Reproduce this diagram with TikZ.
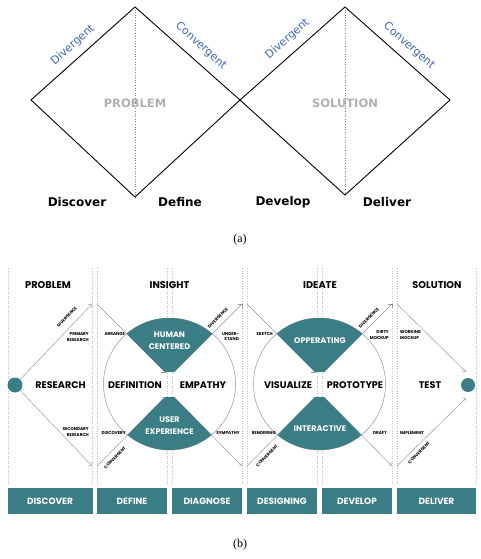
\documentclass[tikz,border=0pt]{standalone}
\usepackage{fontspec}
\setmainfont{Liberation Serif}
\newfontfamily\verd{DejaVu Sans}
\newfontfamily\pop{Poppins}
\usetikzlibrary{arrows.meta}
\definecolor{tealA}{RGB}{58,125,133}
\definecolor{divblue}{RGB}{62,102,182}
\definecolor{dotgray}{RGB}{190,190,190}
\definecolor{armgray}{RGB}{150,150,150}
\definecolor{probgray}{RGB}{175,175,175}
\tikzset{
  diam/.style={draw=black,line width=0.9pt},
  midline/.style={draw=gray,dotted,line width=0.6pt},
  phase/.style={font=\verd\fontsize{11}{12}\selectfont,text=divblue,inner sep=0pt},
  stage/.style={font=\verd\bfseries\fontsize{12}{13}\selectfont,inner sep=0pt},
  ghost/.style={font=\verd\bfseries\fontsize{11.5}{12}\selectfont,text=probgray,inner sep=0pt},
  capt/.style={font=\fontsize{12}{13}\selectfont,inner sep=0pt},
  dotl/.style={draw=dotgray,dotted,line width=0.5pt},
  ring/.style={draw=armgray,line width=0.5pt},
  arm/.style={draw=armgray,line width=0.45pt},
  arr/.style={arm,-{Straight Barb[length=2.5pt,width=5pt]}},
  hdr/.style={font=\pop\bfseries\fontsize{9.8}{10}\selectfont,inner sep=0pt},
  big/.style={font=\pop\bfseries\fontsize{9.6}{10}\selectfont,inner sep=0pt},
  wht/.style={font=\pop\bfseries\fontsize{8.1}{12}\selectfont,text=white,inner sep=0pt,align=center},
  tiny/.style={font=\pop\bfseries\fontsize{4.2}{5.2}\selectfont,inner sep=0pt},
  boxl/.style={fill=tealA,text=white,font=\pop\bfseries\fontsize{9}{10}\selectfont,inner sep=0pt},
  tdot/.style={circle,fill=tealA,inner sep=0pt}
}
\begin{document}
\begin{tikzpicture}[x=1pt,y=-1pt]
\useasboundingbox (0,0) rectangle (480,559);
% ---------------- (a) ----------------
\coordinate (t1) at (135,7);
\coordinate (l1) at (31,100);
\coordinate (b1) at (135,197);
\coordinate (m) at (240,100);
\coordinate (t2) at (345,7);
\coordinate (b2) at (345,195);
\coordinate (r2) at (450,100);
\draw[midline] (t1) -- (b1);
\draw[midline] (t2) -- (b2);
\draw[diam,line join=miter] (l1) -- (t1) -- (m) -- (b1) -- cycle;
\draw[diam,line join=miter] (m) -- (t2) -- (r2) -- (b2) -- cycle;
\node[phase,rotate=42] (dv1) at (73,45) {Divergent};
\node[phase,rotate=-42] (cv1) at (201,46) {Convergent};
\node[phase,rotate=41.5] (dv2) at (287.5,39) {Divergent};
\node[phase,rotate=-41.5] (cv2) at (409,46) {Convergent};
\node[ghost] (prob) at (135,103) {PROBLEM};
\node[ghost] (sol) at (345,103) {SOLUTION};
\node[stage] (disc) at (77,202) {Discover};
\node[stage] (defi) at (180,202) {Define};
\node[stage] (deve) at (283,202) {Develop};
\node[stage] (deli) at (387,202) {Deliver};
\node[capt] (capa) at (240,240) {(a)};
% ---------------- (b) ----------------
\foreach \x in {8,92,97,167,172,242,247,317,322,392,397,476}
  \draw[dotl] (\x,268) -- (\x,484);
\draw[ring] (169.5,384) circle[radius=66];
\draw[ring] (319.5,384) circle[radius=66];
% problem column
\node[tdot,minimum size=15pt] (dotL) at (15,385) {};
\coordinate (pU) at (92,304);
\coordinate (pD) at (92,466);
\draw[arr] (dotL) -- (pU);
\draw[arr] (dotL) -- (pD);
% insight arms
\coordinate (iA) at (97,304);
\coordinate (iB) at (165,372);
\coordinate (iC) at (174,372);
\coordinate (iD) at (242,304);
\coordinate (iE) at (97,466);
\coordinate (iF) at (165,397);
\coordinate (iG) at (174,397);
\coordinate (iH) at (242,466);
\draw[arr] (iA) -- (iB);
\draw[arr] (iC) -- (iD);
\draw[arr] (iE) -- (iF);
\draw[arr] (iG) -- (iH);
% ideate arms
\coordinate (jA) at (247,304);
\coordinate (jB) at (315,372);
\coordinate (jC) at (324,372);
\coordinate (jD) at (392,304);
\coordinate (jE) at (247,466);
\coordinate (jF) at (315,397);
\coordinate (jG) at (324,397);
\coordinate (jH) at (392,466);
\draw[arr] (jA) -- (jB);
\draw[arr] (jC) -- (jD);
\draw[arr] (jE) -- (jF);
\draw[arr] (jG) -- (jH);
% sectors
\begin{scope}
\clip (169.5,384) circle[radius=66];
\fill[tealA] (iA) -- (iB) -- (iC) -- (iD) -- (242,250) -- (97,250) -- cycle;
\fill[tealA] (iE) -- (iF) -- (iG) -- (iH) -- (242,520) -- (97,520) -- cycle;
\end{scope}
\begin{scope}
\clip (319.5,384) circle[radius=66];
\fill[tealA] (jA) -- (jB) -- (jC) -- (jD) -- (392,250) -- (247,250) -- cycle;
\fill[tealA] (jE) -- (jF) -- (jG) -- (jH) -- (392,520) -- (247,520) -- cycle;
\end{scope}
% solution column
\node[tdot,minimum size=14pt] (dotR) at (468,385) {};
\coordinate (sA) at (397,304);
\coordinate (sB) at (466,372);
\coordinate (sC) at (397,466);
\coordinate (sD) at (466,398);
\draw[arr] (sA) -- (sB);
\draw[arr] (sC) -- (sD);
% headers
\node[hdr] (hP) at (48,285) {PROBLEM};
\node[hdr] (hI) at (169.5,285) {INSIGHT};
\node[hdr] (hD) at (320,285) {IDEATE};
\node[hdr] (hS) at (437,285) {SOLUTION};
% big labels
\node[big] (res) at (60.5,385) {RESEARCH};
\node[big] (dfn) at (135,385) {DEFINITION};
\node[big] (emp) at (203,385) {EMPATHY};
\node[big] (vis) at (288,385) {VISUALIZE};
\node[big] (pro) at (355,385) {PROTOTYPE};
\node[big] (tst) at (430,385) {TEST};
% white sector labels
\node[wht] (hum) at (169.5,341) {HUMAN\\CENTERED};
\node[wht] (usr) at (169.5,426) {USER\\EXPERIENCE};
\node[wht] (opp) at (320,341) {OPPERATING};
\node[wht] (int) at (320,429) {INTERACTIVE};
% tiny labels
\node[tiny,rotate=46] (dg1) at (67,317) {DIVERGENCE};
\node[tiny,align=right,anchor=east] (prim) at (89,337) {PRIMARY\\RESEARCH};
\node[tiny,align=right,anchor=east] (sec) at (89,432) {SECONDARY\\RESEARCH};
\node[tiny,anchor=east] (arrg) at (125,334) {ARRANGE};
\node[tiny,anchor=east] (dscv) at (126,433) {DISCOVERY};
\node[tiny,rotate=45] (cg1) at (115,458) {CONVERGENT};
\node[tiny,rotate=45] (dg2) at (218,318) {DIVERGENCE};
\node[tiny,align=right,anchor=east] (und) at (239,336.5) {UNDER-\\STAND};
\node[tiny] (sym) at (228,433) {SYMPATHY};
\node[tiny,anchor=east] (skt) at (273,334) {SKETCH};
\node[tiny,anchor=east] (rnd) at (276,433) {RENDERING};
\node[tiny,rotate=45] (cg2) at (267,456) {CONVERGENT};
\node[tiny,rotate=45] (dg3) at (369,318) {DIVERGENCE};
\node[tiny,align=right,anchor=east] (dirt) at (389,335) {DIRTY\\MOCKUP};
\node[tiny] (drf) at (380,433) {DRAFT};
\node[tiny,align=left,anchor=west] (wrk) at (400,335) {WORKING\\MOCKUP};
\node[tiny,anchor=west] (imp) at (400,433) {IMPLEMENT};
\node[tiny,rotate=45] (cg3) at (419,453) {CONVERGENT};
% bottom boxes
\node[boxl,minimum width=85pt,minimum height=26pt] (bx1) at (50,501) {DISCOVER};
\node[boxl,minimum width=70pt,minimum height=26pt] (bx2) at (132,501) {DEFINE};
\node[boxl,minimum width=70pt,minimum height=26pt] (bx3) at (207,501) {DIAGNOSE};
\node[boxl,minimum width=70pt,minimum height=26pt] (bx4) at (282,501) {DESIGNING};
\node[boxl,minimum width=70pt,minimum height=26pt] (bx5) at (357,501) {DEVELOP};
\node[boxl,minimum width=79pt,minimum height=26pt] (bx6) at (436.5,501) {DELIVER};
\node[capt] (capb) at (240,545) {(b)};
\end{tikzpicture}
\end{document}
